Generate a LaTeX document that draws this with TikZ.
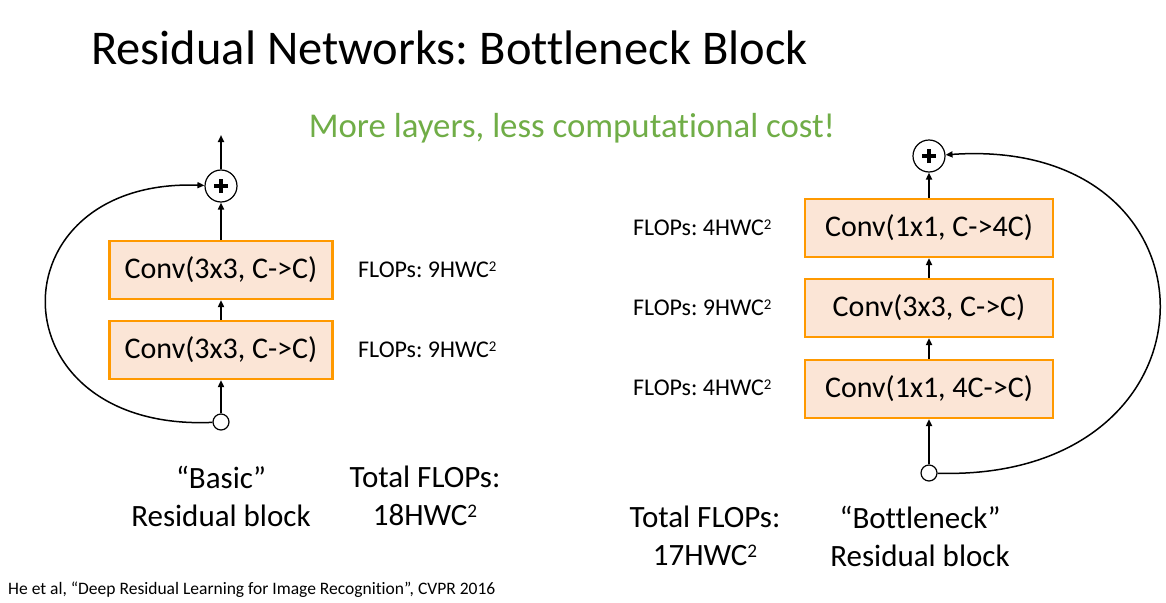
\documentclass[tikz,border=0pt]{standalone}
\usepackage{fontspec}
\setmainfont[Ligatures={NoCommon}]{Carlito}
\usetikzlibrary{arrows.meta}
\definecolor{boxfill}{HTML}{FBE5D6}
\definecolor{boxedge}{HTML}{FF9900}
\definecolor{subgreen}{HTML}{70AD47}
\newcommand{\sqr}{\raisebox{0.55ex}{\scalebox{0.62}{2}}}
\frenchspacing
\begin{document}
\begin{tikzpicture}[x=1pt,y=-1pt,
  convbox/.style={draw=boxedge,fill=boxfill,line width=2.2pt,minimum width=223pt,minimum height=58pt,inner sep=0pt,font=\fontsize{30}{34}\selectfont},
  flops/.style={anchor=west,inner sep=0pt,font=\fontsize{24}{28}\selectfont},
  caption/.style={inner sep=0pt,align=center,font=\fontsize{31}{38}\selectfont},
  sumnode/.style={draw,circle,line width=1.2pt,minimum size=32pt,inner sep=0pt,
    path picture={\draw[line width=3.4pt] ([xshift=-7pt]path picture bounding box.center) -- ([xshift=7pt]path picture bounding box.center);
                  \draw[line width=3.4pt] ([yshift=-7pt]path picture bounding box.center) -- ([yshift=7pt]path picture bounding box.center);}},
  innode/.style={draw,circle,line width=1.2pt,fill=white,minimum size=16pt,inner sep=0pt},
  flow/.style={line width=2.3pt,-{Triangle[length=7pt,width=6pt]}},
  skip/.style={line width=1.5pt,-{Triangle[length=7pt,width=6pt]}}]
\useasboundingbox (0,0) rectangle (1166,602);

% headings
\node[anchor=west,inner sep=0pt,font=\fontsize{48.5}{52}\selectfont] (title) at (91,48) {Residual Networks: Bottleneck Block};
\node[inner sep=0pt,text=subgreen,font=\fontsize{34.8}{40}\selectfont] (sub) at (572,128) {More layers, less computational cost!};

% basic residual block
\node[convbox] (b2) at (221,270) {Conv(3x3, C->C)};
\node[convbox] (b1) at (221,350) {Conv(3x3, C->C)};
\node[sumnode] (bsum) at (221,186) {};
\node[innode] (bin) at (221,422) {};
\coordinate (bout) at (221,135);
\draw[flow] (bin) -- (b1);
\draw[flow] (b1) -- (b2);
\draw[flow] (b2) -- (bsum);
\draw[flow] (bsum) -- (bout);
\draw[skip] (bin) .. controls (-8,432) and (-8,178) .. (bsum);
\node[flops] (bf2) at (358,270) {FLOPs: 9HWC\sqr};
\node[flops] (bf1) at (358,350) {FLOPs: 9HWC\sqr};
\node[caption] (bcap) at (221,496) {“Basic”\\Residual block};
\node[caption] (btot) at (425,496) {Total FLOPs:\\18HWC\sqr};

% bottleneck residual block
\node[convbox,minimum width=248pt] (r3) at (929,228) {Conv(1x1, C->4C)};
\node[convbox,minimum width=248pt] (r2) at (929,308) {Conv(3x3, C->C)};
\node[convbox,minimum width=248pt] (r1) at (929,389) {Conv(1x1, 4C->C)};
\node[sumnode] (rsum) at (929,156) {};
\node[innode] (rin) at (929,473) {};
\draw[flow] (rin) -- (r1);
\draw[flow] (r1) -- (r2);
\draw[flow] (r2) -- (r3);
\draw[flow] (r3) -- (rsum);
\draw[skip] (rin) .. controls (1232,482) and (1232,135) .. (rsum);
\node[flops] (rf3) at (633,228) {FLOPs: 4HWC\sqr};
\node[flops] (rf2) at (633,308) {FLOPs: 9HWC\sqr};
\node[flops] (rf1) at (633,388) {FLOPs: 4HWC\sqr};
\node[caption] (rtot) at (705,536) {Total FLOPs:\\17HWC\sqr};
\node[caption] (rcap) at (920,536) {“Bottleneck”\\Residual block};

% reference
\node[anchor=west,inner sep=0pt,font=\fontsize{17.5}{20}\selectfont] (cite) at (8,590) {He et al, “Deep Residual Learning for Image Recognition”, CVPR 2016};
\end{tikzpicture}
\end{document}
